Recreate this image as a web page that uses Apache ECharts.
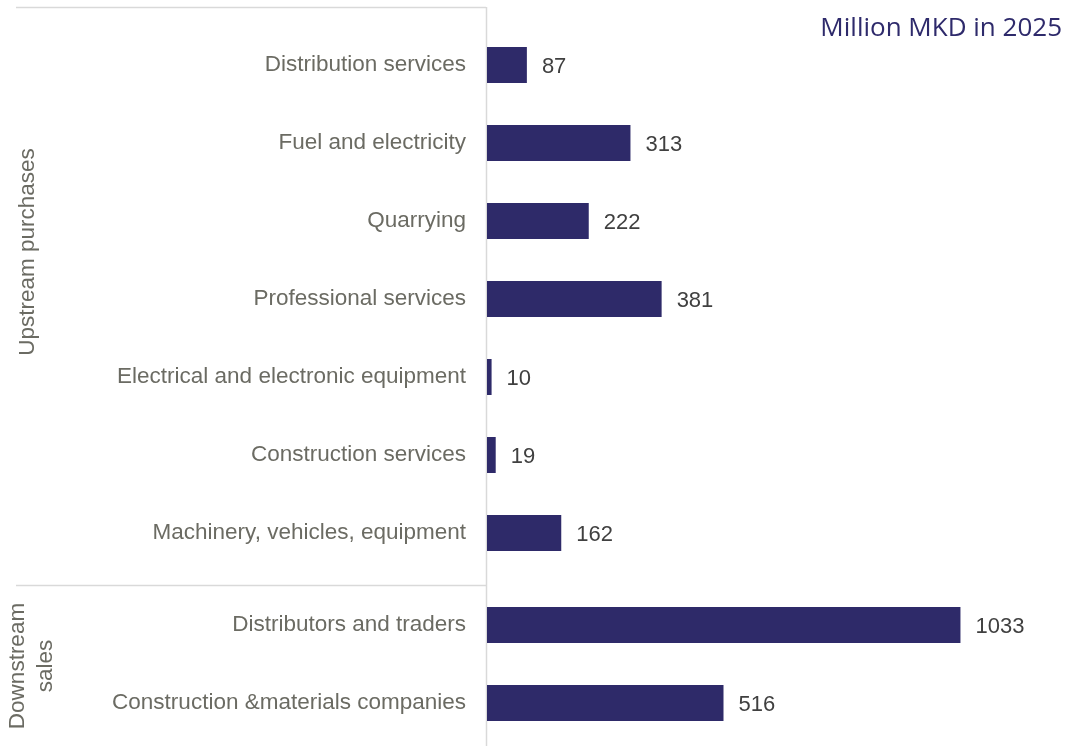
<!DOCTYPE html>
<html>
<head>
<meta charset="utf-8">
<script src="https://cdn.jsdelivr.net/npm/echarts@6/dist/echarts.min.js"></script>
<style>html,body{margin:0;padding:0;background:#fff;}#chart{width:1070px;height:746px;}</style>
</head>
<body>
<div id="chart"></div>
<script>
const upstreamCategories = ["Distribution services","Fuel and electricity","Quarrying","Professional services","Electrical and electronic equipment","Construction services","Machinery, vehicles, equipment"];
const upstreamValues = [87, 313, 222, 381, 10, 19, 162];
const downstreamCategories = ["Distributors and traders","Construction &materials companies"];
const downstreamValues = [1033, 516];
const groupLabels = ["Upstream purchases", "Downstream\nsales"];
const unitTitle = "Million MKD in 2025";

const barColor = "#2e2a69";
const catColor = "#6b6b63";
const valColor = "#404040";
const lineColor = "#d9d9d9";
const FONT = "Liberation Sans, Arial, sans-serif";

const chart = echarts.init(document.getElementById('chart'));

function yAx(idx, cats) {
  return {
    type: 'category', gridIndex: idx, data: cats, inverse: true,
    axisLine: {show: false}, axisTick: {show: false},
    axisLabel: {color: catColor, fontSize: 22.5, fontFamily: FONT, margin: 21, padding: [3, 0, 0, 0]}
  };
}
function xAx(idx) {
  return {
    type: 'value', gridIndex: idx, min: 0, max: 1200,
    show: false, splitLine: {show: false}
  };
}
function ser(idx, vals) {
  return {
    type: 'bar', xAxisIndex: idx, yAxisIndex: idx, data: vals,
    barWidth: 36, itemStyle: {color: barColor},
    label: {show: true, position: 'right', distance: 15, color: valColor, fontSize: 22, fontFamily: FONT, offset: [0, 2]}
  };
}

chart.setOption({
  animation: false,
  grid: [
    {left: 487, right: 33, top: 26, height: 546},
    {left: 487, right: 33, top: 586, height: 156}
  ],
  xAxis: [xAx(0), xAx(1)],
  yAxis: [yAx(0, upstreamCategories), yAx(1, downstreamCategories)],
  series: [ser(0, upstreamValues), ser(1, downstreamValues)],
  graphic: [
    {type: 'line', shape: {x1: 16, y1: 7.5, x2: 486, y2: 7.5}, style: {stroke: lineColor, lineWidth: 1.5}},
    {type: 'line', shape: {x1: 16, y1: 585.5, x2: 486, y2: 585.5}, style: {stroke: lineColor, lineWidth: 1.5}},
    {type: 'line', shape: {x1: 486.5, y1: 7, x2: 486.5, y2: 746}, style: {stroke: lineColor, lineWidth: 1.5}},
    {type: 'text', x: 28, y: 252, rotation: Math.PI/2,
     style: {text: groupLabels[0], fill: catColor, font: '22.5px ' + FONT, textAlign: 'center', textVerticalAlign: 'middle'}},
    {type: 'text', x: 32, y: 666, rotation: Math.PI/2,
     style: {text: groupLabels[1], fill: catColor, font: '22.5px ' + FONT, textAlign: 'center', textVerticalAlign: 'middle', lineHeight: 28}},
    {type: 'text', right: 8, top: 16,
     style: {text: unitTitle, fill: '#2e2a6b', font: '26px "Open Sans", sans-serif'}}
  ]
});
</script>
</body>
</html>
